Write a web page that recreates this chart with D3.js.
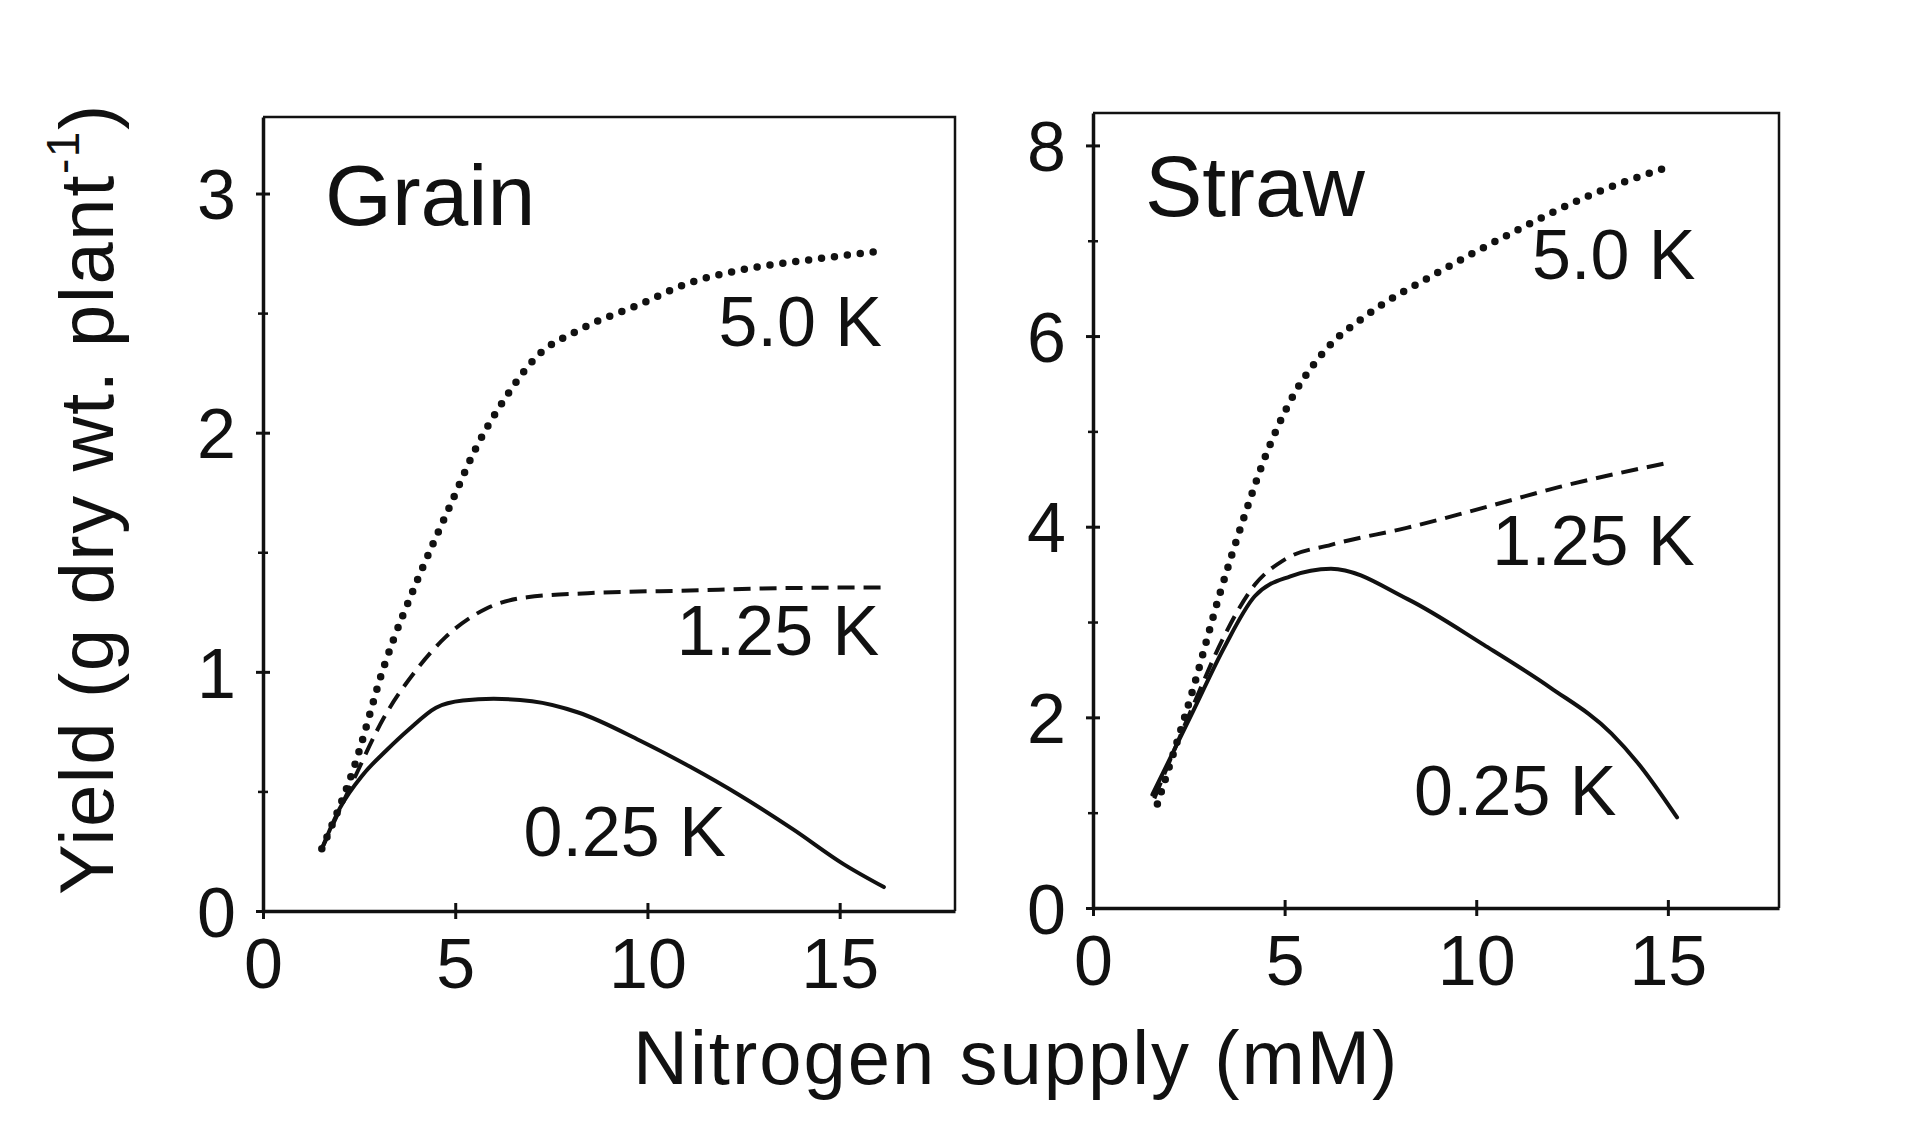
<!DOCTYPE html>
<html>
<head>
<meta charset="utf-8">
<script src="https://cdn.jsdelivr.net/npm/d3@7"></script>
<style>
  body { margin: 0; background: #fff; }
  svg { display: block; }
  text { font-family: "Liberation Sans", Arial, Helvetica, sans-serif; fill: #111; }
</style>
</head>
<body>
<svg id="chart" width="1920" height="1121"></svg>
<script>
// --- data: [N supply (mM), yield (g dry wt. plant-1)]
const nTicks = [0, 5, 10, 15];
const grainTicks = [0, 1, 2, 3];
const grainMinor = [0.5, 1.5, 2.5];
const strawTicks = [0, 2, 4, 6, 8];
const strawMinor = [1, 3, 5, 7];
const kLevels = ["0.25 K", "1.25 K", "5.0 K"];

const grainK025 = [[1.53,0.26],[2.0,0.43],[2.6,0.57],[3.2,0.67],[3.8,0.76],[4.5,0.85],[5.2,0.88],[6.0,0.887],
  [7.0,0.877],[8.2,0.83],[9.8,0.713],[11.1,0.604],[12.4,0.484],[13.8,0.34],[15.1,0.196],[16.15,0.10]];
const grainK125 = [[1.53,0.26],[2.35,0.546],[3.15,0.81],[3.95,1.0],[4.74,1.144],[5.8,1.264],[6.87,1.312],
  [8.45,1.329],[11.1,1.34],[13.5,1.35],[16.15,1.353]];
const grainK50 = [[1.53,0.26],[2.35,0.592],[3.15,1.024],[4.08,1.408],[4.87,1.696],[5.54,1.936],[6.33,2.152],
  [7.13,2.32],[8.19,2.427],[9.78,2.535],[11.1,2.627],[12.43,2.68],[14.43,2.727],[16.12,2.76]];

const strawK025 = [[1.55,1.19],[2.62,2.07],[3.42,2.73],[4.22,3.27],[5.15,3.48],[6.21,3.56],[8.21,3.24],
  [10.2,2.76],[11.94,2.31],[13.53,1.83],[14.2,1.53],[15.24,0.95]];
const strawK125 = [[1.6,1.15],[2.62,2.13],[3.42,2.85],[4.22,3.39],[5.02,3.66],[6.21,3.81],[8.21,3.99],
  [10.2,4.2],[12.2,4.42],[15.0,4.67]];
const strawK50 = [[1.68,1.09],[2.62,2.31],[3.29,3.27],[3.95,4.11],[4.48,4.72],[5.15,5.32],[6.08,5.86],
  [7.15,6.22],[8.88,6.64],[10.87,7.07],[12.87,7.46],[15.13,7.79]];

// line look per K level (same order as kLevels)
const lineStyles = [
  { dash: null,   width: 4,   cap: "round" },
  { dash: "17 9", width: 4,   cap: "butt" },
  { dash: "0 13", width: 7.5, cap: "round" }
];

const panels = [
  { title: "Grain", left: 263, right: 955, top: 117, bottom: 911, xMax: 18, yMax: 3.32,
    ticks: grainTicks, minor: grainMinor, series: [grainK025, grainK125, grainK50],
    titleAt: [325, 225], labelAt: [[12.04, 0.228], [16.03, 1.072], [16.1, 2.364]] },
  { title: "Straw", left: 1093, right: 1779, top: 113, bottom: 908, xMax: 17.9, yMax: 8.34,
    ticks: strawTicks, minor: strawMinor, series: [strawK025, strawK125, strawK50],
    titleAt: [1145, 216], labelAt: [[13.66, 0.98], [15.7, 3.603], [15.72, 6.594]] }
];

const svg = d3.select("#chart");
svg.append("rect").attr("width", 1920).attr("height", 1121).attr("fill", "#fff");

panels.forEach(p => {
  const x = d3.scaleLinear().domain([0, p.xMax]).range([p.left, p.right]);
  const y = d3.scaleLinear().domain([0, p.yMax]).range([p.bottom, p.top]);
  const g = svg.append("g");

  // frame: top/right thin, axes thicker
  g.append("path")
    .attr("d", `M${p.left},${p.top}H${p.right}V${p.bottom}`)
    .attr("fill", "none").attr("stroke", "#111").attr("stroke-width", 2.5);

  const xAxis = g.append("g")
    .attr("transform", `translate(0,${p.bottom})`)
    .call(d3.axisBottom(x).tickValues(nTicks).tickSize(8).tickSizeOuter(0).tickPadding(19).tickFormat(d3.format("d")));
  xAxis.select(".domain").attr("stroke-width", 3.5).attr("stroke", "#111");
  xAxis.selectAll(".tick line").attr("y1", -8).attr("stroke-width", 3).attr("stroke", "#111");
  xAxis.selectAll(".tick text").attr("font-size", 70);

  const yAxis = g.append("g")
    .attr("transform", `translate(${p.left},0)`)
    .call(d3.axisLeft(y).tickValues(p.ticks).tickSize(7).tickSizeOuter(0).tickPadding(20).tickFormat(d3.format("d")));
  yAxis.select(".domain").attr("stroke-width", 3.5).attr("stroke", "#111");
  yAxis.selectAll(".tick line").attr("x1", 7).attr("stroke-width", 3).attr("stroke", "#111");
  yAxis.selectAll(".tick text").attr("font-size", 70).attr("dy", "0.36em");

  const yMinor = g.append("g")
    .attr("transform", `translate(${p.left},0)`)
    .call(d3.axisLeft(y).tickValues(p.minor).tickSize(5).tickFormat(""));
  yMinor.select(".domain").remove();
  yMinor.selectAll(".tick line").attr("x1", 5).attr("stroke-width", 2.5).attr("stroke", "#111");

  // curves
  const line = d3.line().x(d => x(d[0])).y(d => y(d[1])).curve(d3.curveMonotoneX);
  p.series.forEach((s, i) => {
    const st = lineStyles[i];
    g.append("path")
      .datum(s)
      .attr("d", line)
      .attr("fill", "none")
      .attr("stroke", "#111")
      .attr("stroke-width", st.width)
      .attr("stroke-linecap", st.cap)
      .attr("stroke-linejoin", "round")
      .attr("stroke-dasharray", st.dash);
  });

  // curve labels
  kLevels.forEach((k, i) => {
    g.append("text")
      .attr("x", x(p.labelAt[i][0]))
      .attr("y", y(p.labelAt[i][1]))
      .attr("text-anchor", "end")
      .attr("font-size", 70)
      .text(k);
  });

  g.append("text")
    .attr("x", p.titleAt[0]).attr("y", p.titleAt[1])
    .attr("font-size", 86)
    .text(p.title);
});

// shared axis titles
svg.append("text")
  .attr("x", 633).attr("y", 1084)
  .attr("font-size", 76)
  .attr("letter-spacing", 2)
  .text("Nitrogen supply (mM)");

const yTitle = svg.append("text")
  .attr("transform", "translate(113,895) rotate(-90)")
  .attr("font-size", 76)
  .attr("letter-spacing", 1.6);
yTitle.append("tspan").text("Yield (g dry wt. plant");
yTitle.append("tspan").attr("font-size", 46).attr("dy", -34).text("-1");
yTitle.append("tspan").attr("dy", 34).text(")");
</script>
</body>
</html>
